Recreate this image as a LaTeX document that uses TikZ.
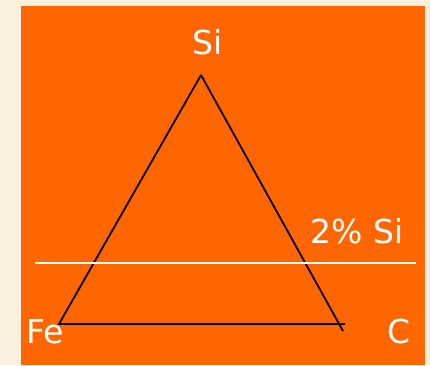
\documentclass[tikz,border=0pt]{standalone}
\usepackage{fontspec}
\setmainfont{DejaVu Sans}
\usetikzlibrary{positioning}
\definecolor{slideorange}{HTML}{FF6600}
\definecolor{slidebeige}{HTML}{FBF0DD}

\begin{document}
\begin{tikzpicture}[x=1pt, y=1pt,
    elemlabel/.style={text=white, font=\fontsize{33}{39}\selectfont, inner sep=0pt, anchor=base},
    side/.style={line width=1.8pt, black}]
  % slide background
  \fill[slidebeige] (0,0) rectangle (430,365);
  \fill[slideorange] (21,0) rectangle (425,359);
  % triangle corners
  \coordinate (si) at (201,290);
  \coordinate (fe) at (59,41);
  \coordinate (c) at (345,41);
  \coordinate (cEnd) at (343,34);
  \draw[side] (si) -- (fe) -- (c);
  \draw[side] (si) -- (cEnd);
  % 2% Si cut
  \coordinate (cutL) at (35,102);
  \coordinate (cutR) at (416,102);
  \draw[white, line width=1.7pt] (cutL) -- (cutR);
  % corner labels
  \node[elemlabel] (siLabel) at (208,310) {Si};
  \node[elemlabel] (feLabel) at (45,21.5) {Fe};
  \node[elemlabel] (cLabel) at (399.5,21.5) {C};
  \node[elemlabel] (cutLabel) at (357,122) {2\% Si};
\end{tikzpicture}
\end{document}
